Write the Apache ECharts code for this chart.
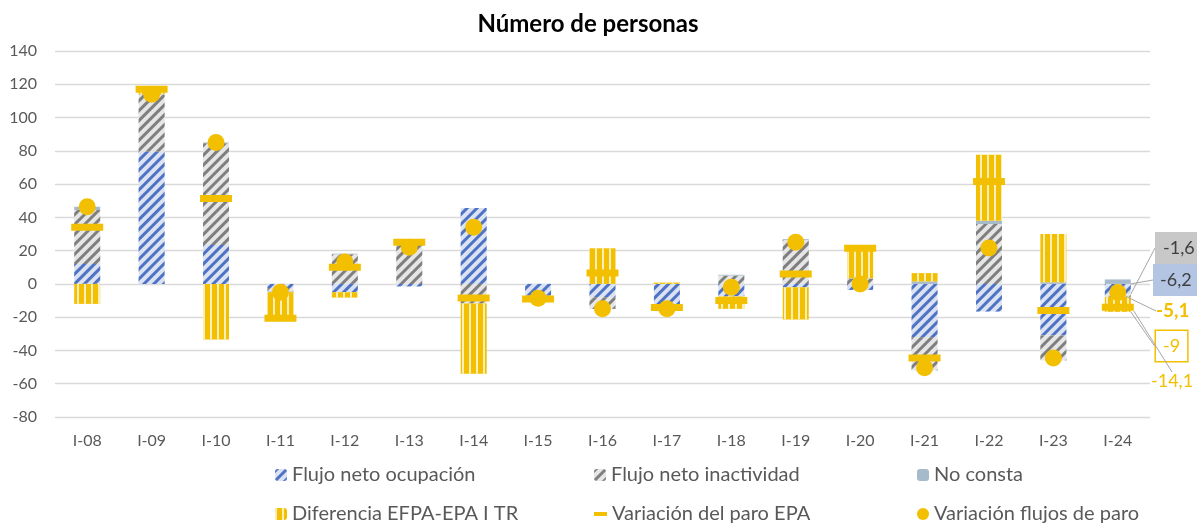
<!DOCTYPE html>
<html>
<head>
<meta charset="utf-8">
<script src="https://cdn.jsdelivr.net/npm/echarts@6/dist/echarts.min.js"></script>
<style>
  html, body { margin: 0; padding: 0; background: #ffffff; }
  #chart { width: 1197px; height: 523px; }
</style>
</head>
<body>
<div id="chart"></div>
<script>
// categorías (primer trimestre de cada año)
const categories = ['I-08', 'I-09', 'I-10', 'I-11', 'I-12', 'I-13', 'I-14', 'I-15', 'I-16',
  'I-17', 'I-18', 'I-19', 'I-20', 'I-21', 'I-22', 'I-23', 'I-24'];
const ocupacion = [12, 79.4, 23.4, -2.5, -5, -1.5, 45.6, -7, -8, -13.5, -7.5, -2, -3.6, -32, -16.6, -31, -6.2];
const inactividad = [32.4, 34.2, 61.2, -2, 17.8, 23.5, -11.8, -1.5, -7, -1.5, 5, 26.5, 3, -20, 36, -15, -1.6];
const noConsta = [2, 0.4, 0.4, -0.5, 0.4, 0, 0, 0, 0, 0, 0.5, 0.5, 0.4, 1.5, 2, 1, 2.7];
const diferencia = [-12, 3, -33.4, -15.6, -3.2, 3, -42.2, -0.5, 21.4, 0.8, -7.5, -19.4, 19.8, 5, 39.6, 29, -9];
const paroEPA = [34, 117, 51.4, -20.6, 10, 25, -8.4, -9, 6.6, -14.2, -10, 6, 21.5, -44.6, 61.6, -16, -14.1];
const flujosParo = [46.4, 114, 85, -5, 13.2, 22, 34, -8.6, -15, -15, -2, 25, 0, -50.4, 21.6, -44.6, -5.1];

const FONT = 'Lato';
const AMARILLO = '#f2c000';
const last = categories.length - 1;

// solo el último trimestre lleva etiqueta
function withLastLabel(arr) {
  return arr.map((v, i) => i === last
    ? { value: v, label: { show: true }, labelLine: { show: true } }
    : v);
}
function coma(p) {
  return String(p.value).replace('.', ',');
}
// posiciones de las etiquetas a la derecha del gráfico
function layoutAt(x, y) {
  return function (params) {
    if (params.dataIndex !== last) return {};
    return { x: x, y: y, align: 'left', verticalAlign: 'middle' };
  };
}
const guia = { lineStyle: { color: '#a6a6a6', width: 1 } };

const myChart = echarts.init(document.getElementById('chart'));
const option = {
  backgroundColor: '#ffffff',
  animation: false,
  title: {
    text: 'Número de personas',
    left: 583,
    top: 7,
    textAlign: 'center',
    textStyle: { fontFamily: FONT, fontSize: 24, fontWeight: 'bold', color: '#000000' }
  },
  grid: { left: 55, right: 47, top: 51, bottom: 106 },
  legend: [
    { left: 270, top: 460, data: ['Flujo neto ocupación'] },
    { left: 589, top: 460, data: ['Flujo neto inactividad'] },
    { left: 912, top: 460, data: ['No consta'] },
    { left: 270, top: 499, data: ['Diferencia EFPA-EPA I TR'] },
    { left: 589, top: 499, data: [{ name: 'Variación del paro EPA', icon: 'rect' }], itemHeight: 4, itemWidth: 13 },
    { left: 912, top: 499, data: [{ name: 'Variación flujos de paro', icon: 'circle' }], itemHeight: 13 }
  ].map(l => Object.assign({
    itemWidth: 12, itemHeight: 12, itemGap: 0,
    textStyle: { fontFamily: FONT, fontSize: 20, color: '#595959', padding: [0, 0, 0, 0] },
    selectedMode: false
  }, l)),
  xAxis: {
    type: 'category',
    data: categories,
    axisLine: { show: false },
    axisTick: { show: false },
    axisLabel: { fontFamily: FONT, fontSize: 16, color: '#595959', margin: 16 }
  },
  yAxis: {
    type: 'value',
    min: -80, max: 140, interval: 20,
    axisLine: { show: false },
    axisTick: { show: false },
    axisLabel: { fontFamily: FONT, fontSize: 16, color: '#595959', margin: 18 },
    splitLine: { lineStyle: { color: '#d9d9d9', width: 1.3 } }
  },
  series: [
    {
      name: 'Flujo neto ocupación', type: 'bar', stack: 'total', barWidth: 26,
      data: withLastLabel(ocupacion),
      itemStyle: {
        color: '#dbe2f2',
        decal: { symbol: 'rect', color: '#4f73c4', dashArrayX: [1, 0], dashArrayY: [2.5, 3.5], rotation: -Math.PI / 4, symbolSize: 1 }
      },
      label: {
        show: false, formatter: coma, fontFamily: FONT, fontSize: 18, color: '#404040',
        backgroundColor: '#b4c5e4', padding: [8, 6, 6, 7]
      },
      labelLayout: layoutAt(1153, 280),
      labelLine: guia
    },
    {
      name: 'Flujo neto inactividad', type: 'bar', stack: 'total', barWidth: 26,
      data: withLastLabel(inactividad),
      itemStyle: {
        color: '#e6e6e6',
        decal: { symbol: 'rect', color: '#7f7f7f', dashArrayX: [1, 0], dashArrayY: [2.5, 3.5], rotation: -Math.PI / 4, symbolSize: 1 }
      },
      label: {
        show: false, formatter: coma, fontFamily: FONT, fontSize: 18, color: '#404040',
        backgroundColor: '#c8c8c8', padding: [8, 8, 6, 8]
      },
      labelLayout: layoutAt(1155, 248),
      labelLine: guia
    },
    {
      name: 'No consta', type: 'bar', stack: 'total', barWidth: 26,
      data: noConsta,
      itemStyle: { color: '#a7bac9' }
    },
    {
      name: 'Diferencia EFPA-EPA I TR', type: 'bar', stack: 'total', barWidth: 26,
      data: withLastLabel(diferencia),
      itemStyle: {
        color: AMARILLO,
        decal: { symbol: 'rect', color: '#fbeeb8', dashArrayX: [2, 5], dashArrayY: [1, 0], symbolSize: 1 }
      },
      label: {
        show: false, formatter: coma, fontFamily: FONT, fontSize: 18, color: AMARILLO,
        backgroundColor: '#ffffff', borderColor: AMARILLO, borderWidth: 1.5, padding: [7, 7, 5, 7]
      },
      labelLayout: layoutAt(1156, 346),
      labelLine: guia
    },
    {
      name: 'Variación del paro EPA', type: 'scatter',
      symbol: 'rect', symbolSize: [32, 7],
      data: withLastLabel(paroEPA),
      itemStyle: { color: AMARILLO, opacity: 1 },
      label: { show: false, formatter: coma, fontFamily: FONT, fontSize: 18, color: AMARILLO },
      labelLayout: layoutAt(1151, 381),
      labelLine: guia,
      z: 3
    },
    {
      name: 'Variación flujos de paro', type: 'scatter',
      symbol: 'circle', symbolSize: 17,
      data: withLastLabel(flujosParo),
      itemStyle: { color: AMARILLO, opacity: 1 },
      label: { show: false, formatter: coma, fontFamily: FONT, fontSize: 19, fontWeight: 'bold', color: AMARILLO },
      labelLayout: layoutAt(1156, 311),
      labelLine: guia,
      z: 3
    }
  ]
};
myChart.setOption(option);
</script>
</body>
</html>
